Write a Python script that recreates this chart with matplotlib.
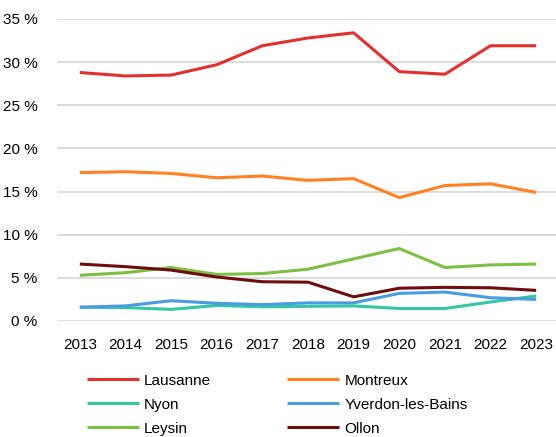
import matplotlib.pyplot as plt
from matplotlib.ticker import FuncFormatter

years = list(range(2013, 2024))

lausanne = [28.8, 28.4, 28.5, 29.7, 31.9, 32.8, 33.4, 28.9, 28.6, 31.9, 31.9]
montreux = [17.2, 17.3, 17.1, 16.6, 16.8, 16.3, 16.5, 14.3, 15.7, 15.9, 14.9]
nyon = [1.6, 1.55, 1.35, 1.8, 1.65, 1.7, 1.75, 1.45, 1.45, 2.2, 2.9]
yverdon = [1.6, 1.75, 2.35, 2.05, 1.9, 2.1, 2.1, 3.2, 3.35, 2.7, 2.5]
leysin = [5.3, 5.6, 6.2, 5.4, 5.5, 6.0, 7.2, 8.4, 6.2, 6.5, 6.6]
ollon = [6.6, 6.3, 5.9, 5.1, 4.55, 4.5, 2.8, 3.8, 3.9, 3.85, 3.55]

series = [
    ("Lausanne", lausanne, "#e3302f"),
    ("Montreux", montreux, "#ff8122"),
    ("Nyon", nyon, "#33c7a3"),
    ("Yverdon-les-Bains", yverdon, "#4a9be0"),
    ("Leysin", leysin, "#7cc043"),
    ("Ollon", ollon, "#6e0d0d"),
]

plt.rcParams['font.family'] = ['Liberation Sans Narrow', 'Liberation Sans', 'DejaVu Sans']

fig = plt.figure(figsize=(5.56, 4.37), dpi=100)
ax = fig.add_axes([57 / 556, 1 - 321 / 437, 502 / 556, 302 / 437])

lines = {}
for name, vals, col in series:
    lines[name], = ax.plot(years, vals, color=col, lw=2.2, label=name, solid_capstyle='butt')

ax.set_ylim(0, 35)
ax.set_xlim(2012.5, 2023.5)
ax.set_yticks(range(0, 36, 5))
ax.set_xticks(years)
ax.yaxis.set_major_formatter(FuncFormatter(lambda v, p: "%d %%" % v))
ax.grid(axis='y', color='#d9d9d9', lw=1.3)
ax.set_axisbelow(True)
for s in ax.spines.values():
    s.set_visible(False)
ax.tick_params(length=0, labelsize=11, colors='#000000')
ax.tick_params(axis='x', pad=12)
ax.tick_params(axis='y', pad=14)

# legend filled row by row like the original (matplotlib fills columns)
order = ["Lausanne", "Nyon", "Leysin", "Montreux", "Yverdon-les-Bains", "Ollon"]
fig.legend([lines[n] for n in order], order, loc='upper left',
           bbox_to_anchor=(79 / 556, 1 - 366 / 437), ncol=2,
           frameon=False, fontsize=11, handlelength=3.4, handletextpad=0.35,
           columnspacing=5.0, labelspacing=0.66, borderpad=0)

fig.savefig("out.png", dpi=100)
